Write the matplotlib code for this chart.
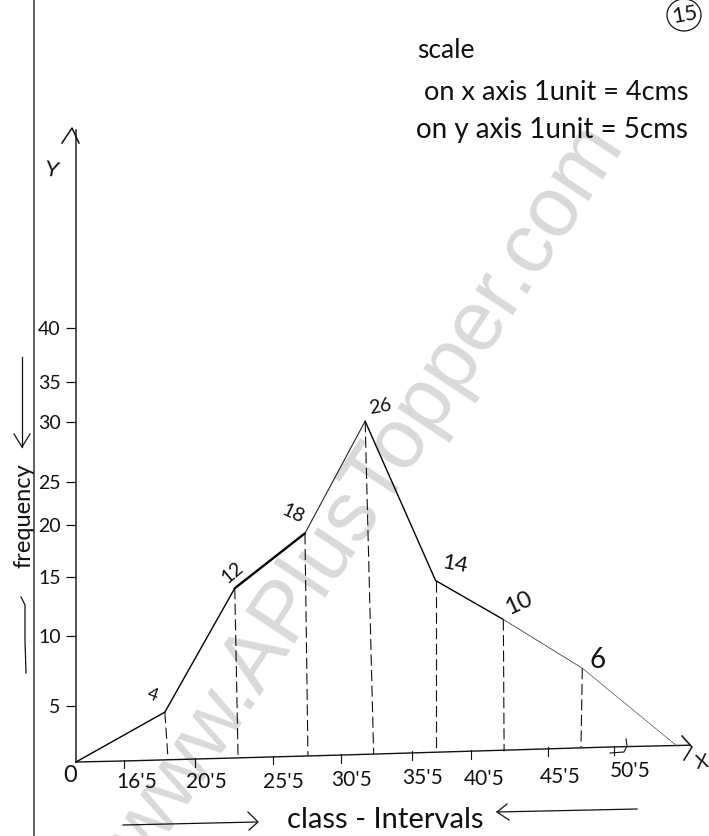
import matplotlib
matplotlib.use("Agg")
import matplotlib.pyplot as plt
import numpy as np
from matplotlib.patches import Ellipse
from matplotlib.lines import Line2D

plt.rcParams['font.family'] = ['Lato', 'DejaVu Sans']

# valores
puntos_x = [0, 18.8, 23.05, 27.85, 32.2, 37.5, 42.6, 48.1, 54.5]
puntos_y = [0, 4.45, 14.05, 19.2, 30.1, 14.7, 11.4, 7.7, 1.4]
grosor_tramos = [1.0, 1.0, 1.7, 0.8, 1.0, 1.0, 0.6, 0.5]
color_tramos = ['k', 'k', 'k', '#222222', 'k', 'k', '#444444', '#555555']

etiquetas_puntos = ['4', '12', '18', '26', '14', '10', '6']
giro_puntos = [-20, 40, -25, 10, -10, 25, 0]
tam_puntos = [13, 14, 14, 14, 16, 17, 20]
offset_puntos = [(-12, 17), (-2, 16), (-12, 20), (15, 15), (19, 16), (15, 16), (15, 8)]

pie_x = [18.98, 23.26, 28.07, 32.8, 37.5, 42.65, 48.0]
pie_y = [0.27, 0.45, 0.54, 0.71, 0.86, 0.95, 1.34]

ticks_x = [16.5, 20.5, 25.5, 30.5, 35.5, 40.5, 45.5, 50.5]
base_ticks_y = [0.09, 0.27, 0.48, 0.62, 0.88, 0.95, 1.25, 1.35]
etiquetas_x = ["16'5", "20'5", "25'5", "30'5", "35'5", "40'5", "45'5", "50'5"]
offset_ticks = [(13, -21), (11, -23), (10, -25), (11, -25), (11, -26), (13, -28), (12, -29), (16, -24)]

ticks_y = [5, 10, 15, 20, 25, 30, 35, 40]
eje_x_x = [0, 16.5, 30.5, 50.5, 55.3]
eje_x_y = [0, 0.09, 0.62, 1.35, 1.5]

# escala dibujada a mano, no es uniforme: valor -> pixel
escala_x_val = [-16, 0, 16.5, 20.5, 25.5, 30.5, 35.5, 40.5, 45.5, 50.5, 56.5]
escala_x_pix = [0, 76, 124, 195, 273, 341, 412, 471, 548, 614, 709]
escala_y_val = [-7, 0, 5, 10, 15, 20, 25, 30, 35, 40, 70]
escala_y_pix = [0, 74, 130, 200, 259, 311, 354, 414, 454, 508, 836]


def directa_x(v):
    return np.interp(v, escala_x_val, escala_x_pix)


def inversa_x(p):
    return np.interp(p, escala_x_pix, escala_x_val)


def directa_y(v):
    return np.interp(v, escala_y_val, escala_y_pix)


def inversa_y(p):
    return np.interp(p, escala_y_pix, escala_y_val)


def pix(x, y):
    # coordenadas de imagen a 'figure pixels'
    return (x, 836 - y)


def texto(x, y, s, size=15, rot=0, **kw):
    ax.annotate(s, xy=pix(x, y), xycoords='figure pixels', fontsize=size, rotation=rot,
                ha='center', va='center', color='#111111', **kw)


def trazo(xs, ys, lw=0.9, color='#111111'):
    fig.add_artist(Line2D([x / 709 for x in xs], [1 - y / 836 for y in ys],
                          transform=fig.transFigure, lw=lw, color=color))


fig = plt.figure(figsize=(7.09, 8.36), dpi=100)
ax = fig.add_axes([0, 0, 1, 1])
ax.set_xscale('function', functions=(directa_x, inversa_x))
ax.set_yscale('function', functions=(directa_y, inversa_y))
ax.set_xlim(-16, 56.5)
ax.set_ylim(-7, 70)

# marca de agua
ax.text(0.52, 0.41, 'www.APlusTopper.com', transform=ax.transAxes, fontsize=61,
        family='Liberation Sans', color='#d9d9d9', rotation=56.4, ha='center',
        va='center', rotation_mode='anchor', zorder=0)

# eje y
for lado in ['top', 'right', 'bottom']:
    ax.spines[lado].set_visible(False)
ax.spines['left'].set_position(('data', 0))
ax.spines['left'].set_bounds(0, 58.1)
ax.spines['left'].set_color('#333333')
ax.spines['left'].set_linewidth(1.2)
ax.patch.set_visible(False)
ax.set_xticks([])
ax.set_yticks(ticks_y)
ax.set_yticklabels([str(t) for t in ticks_y], fontsize=14, color='#111111')
ax.tick_params(axis='y', direction='out', length=7, width=0.9, pad=4, color='#111111')
ax.minorticks_off()

# eje x inclinado
ax.plot(eje_x_x, eje_x_y, color='#111111', lw=1.0, zorder=3)
for t, b, lab, off in zip(ticks_x, base_ticks_y, etiquetas_x, offset_ticks):
    ax.plot([t, t], [b + 0.1, b - 0.7], color='#111111', lw=0.8, zorder=3)
    ax.annotate(lab, xy=(t, b), xytext=off, textcoords='offset pixels', fontsize=15,
                ha='center', va='center', color='#111111')

# poligono de frecuencias
for i in range(len(puntos_x) - 1):
    ax.plot(puntos_x[i:i + 2], puntos_y[i:i + 2], color=color_tramos[i],
            lw=grosor_tramos[i], zorder=4, solid_capstyle='round')

# lineas punteadas verticales
for x0, y0, xp, yp in zip(pie_x, pie_y, puntos_x[1:], puntos_y[1:]):
    ax.plot([xp, x0], [yp, y0], color='#111111', lw=0.8, dashes=(10, 4), zorder=3)

for xp, yp, lab, giro, tam, off in zip(puntos_x[1:], puntos_y[1:], etiquetas_puntos,
                                       giro_puntos, tam_puntos, offset_puntos):
    ax.annotate(lab, xy=(xp, yp), xytext=off, textcoords='offset pixels', fontsize=tam,
                rotation=giro, ha='center', va='center', color='#111111', zorder=5)

# linea del margen
trazo([34, 34], [0, 836], lw=1.1, color='#333333')

# puntas de flecha de los ejes
trazo([62, 72, 79], [143, 128, 143], lw=1.1)
trazo([682, 692, 684], [736, 747, 760], lw=1.1)
trazo([610, 624, 627, 626], [753, 752, 746, 739], lw=0.8)

texto(52, 170, 'Y', 16, rot=-10)
texto(702, 762, 'X', 14, rot=10)
texto(70, 776, '0', 17)

# nombres de ejes
texto(385, 820, 'class - Intervals', 21)
trazo([123, 257], [825, 822])
trazo([248, 258, 249], [812, 822, 830])
trazo([497, 637], [812, 809])
trazo([507, 497, 509], [804, 812, 820])
texto(24, 516, 'frequency', 17, rot=90)
trazo([22, 22], [357, 447])
trazo([14, 22, 30], [434, 447, 434])
trazo([21, 25, 25, 26], [597, 605, 640, 673])

# escala
texto(446, 50, 'scale', 19)
texto(556, 93, 'on x axis 1unit = 4cms', 19.5)
texto(552, 130, 'on y axis 1unit = 5cms', 20)
texto(685, 15, '15', 16, rot=10)
fig.add_artist(Ellipse((684 / 709, 1 - 15 / 836), 34 / 709, 32 / 836, fill=False, lw=0.9,
                       ec='#111111', transform=fig.transFigure))

fig.savefig('out.png', dpi=100)
